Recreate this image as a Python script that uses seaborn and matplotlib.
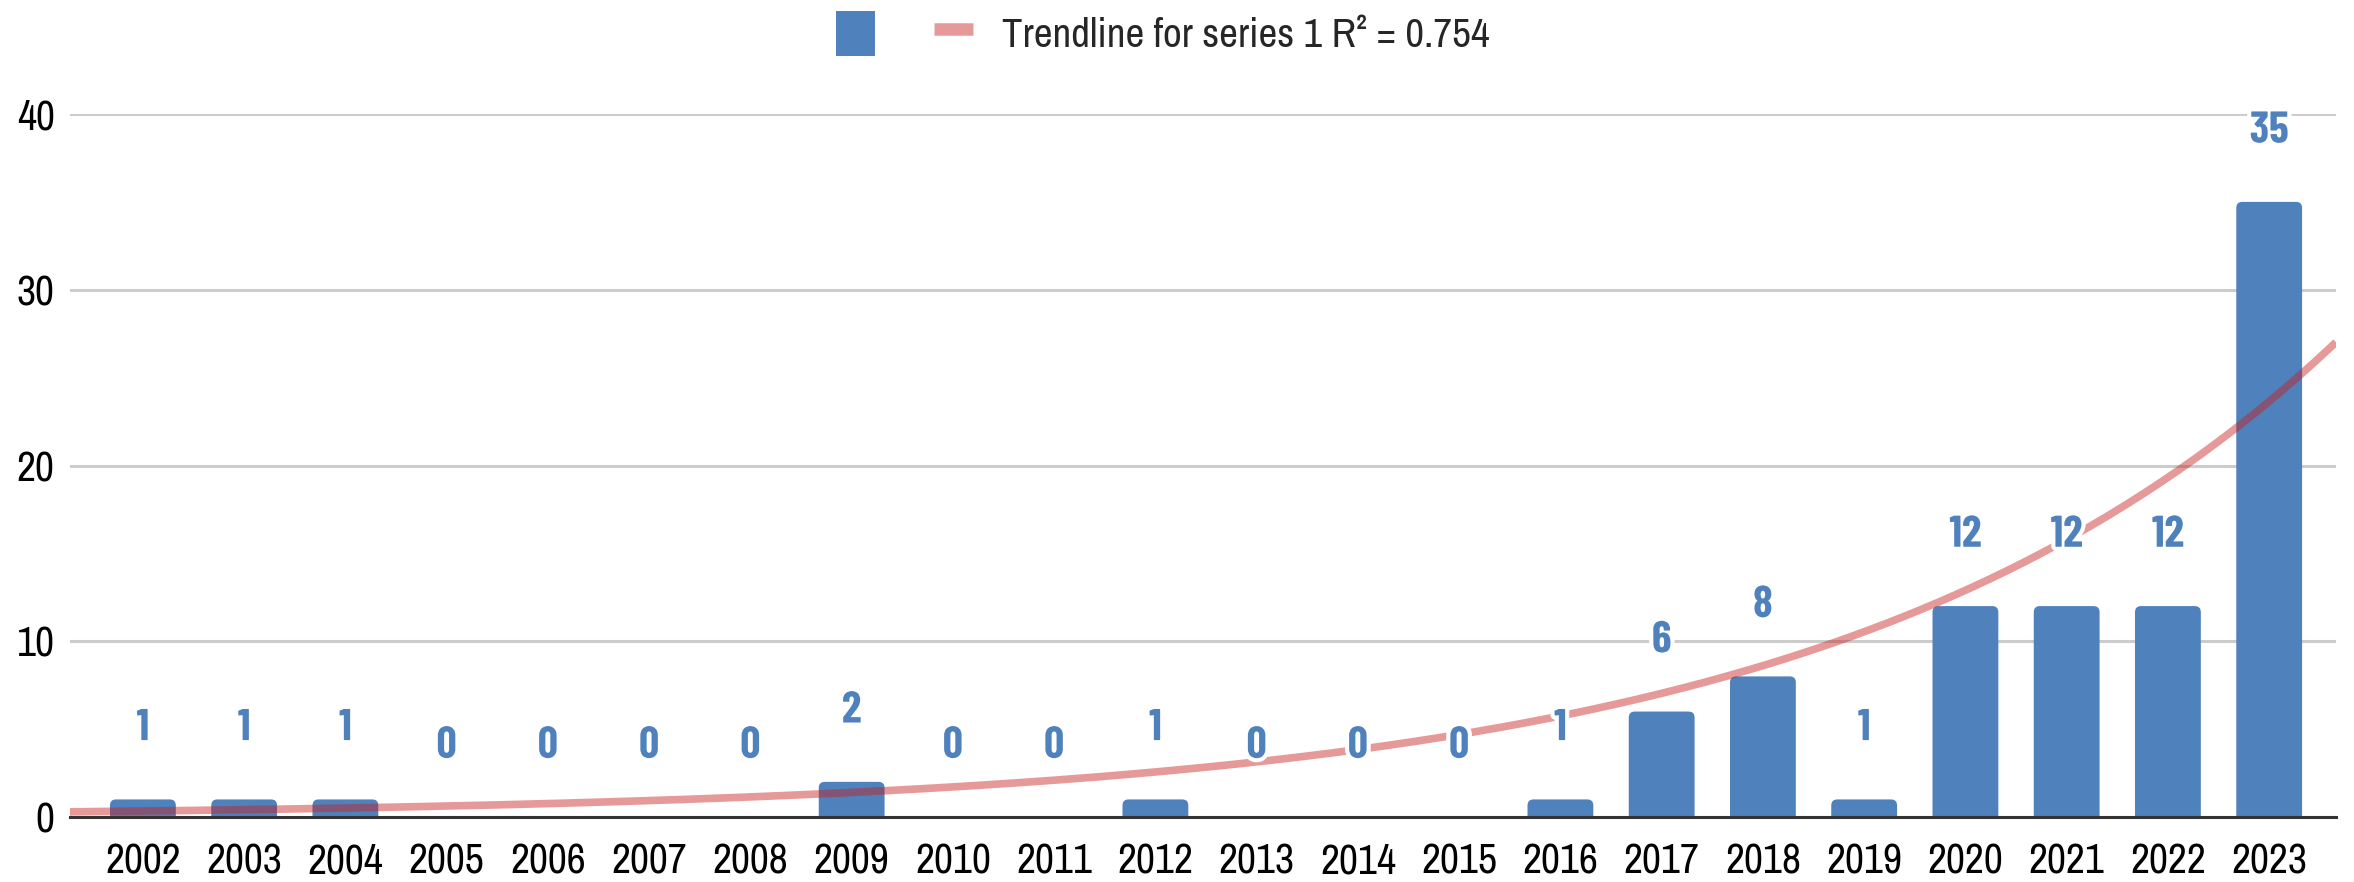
import matplotlib
matplotlib.use('Agg')
import matplotlib.pyplot as plt
import matplotlib.patheffects as pe
from matplotlib.lines import Line2D
from matplotlib.patches import Patch, FancyBboxPatch
import numpy as np
import pandas as pd
import seaborn as sns

# Данные
years = ['2002', '2003', '2004', '2005', '2006', '2007', '2008', '2009', '2010', '2011', '2012',
         '2013', '2014', '2015', '2016', '2017', '2018', '2019', '2020', '2021', '2022', '2023']
counts = [1, 1, 1, 0, 0, 0, 0, 2, 0, 0, 1, 0, 0, 0, 1, 6, 8, 1, 12, 12, 12, 35]

# экспоненциальный тренд (параметры): y = a * exp(b * i), i = 0 для 2002
trend_a = 0.34
trend_b = 0.202
trend_label = 'Trendline for series 1 R² = 0.754'

BLUE = '#4F81BD'
TREND = '#C81E1E'
REG_FONT = ['Archivo Narrow', 'DejaVu Sans']
BOLD_FONT = ['Barlow Condensed', 'DejaVu Sans']

sns.set_theme(style='white')
plt.rcParams['font.family'] = REG_FONT

df = pd.DataFrame({'year': years, 'count': counts})

fig = plt.figure(figsize=(23.54, 8.82), dpi=100)
ax = fig.add_axes([70 / 2354, 65 / 882, (2336 - 70) / 2354, (817 - 114) / 882])

sns.barplot(data=df, x='year', y='count', color=BLUE, saturation=1, width=0.65,
            ax=ax, zorder=2)

x0, x1 = -0.72, 21.66
ax.set_xlim(x0, x1)
ax.set_ylim(0, 40)

# скругляем верх столбцов (низ уходит под ось и обрезается)
px_x = ax.get_position().width * 2354 / (x1 - x0)
px_y = ax.get_position().height * 882 / 40
r = 6 / px_x
for p in list(ax.patches):
    h = p.get_height()
    if h > 0:
        fb = FancyBboxPatch((p.get_x(), -0.5), p.get_width(), h + 0.5,
                            boxstyle=f'round,pad=0,rounding_size={r}',
                            mutation_aspect=px_x / px_y, facecolor=BLUE,
                            edgecolor='none', zorder=2)
        ax.add_patch(fb)
    p.remove()

# линия тренда поверх столбцов
xs = np.linspace(x0, x1, 400)
sns.lineplot(x=xs, y=trend_a * np.exp(trend_b * xs), color=TREND, alpha=0.45, lw=5.5,
             ax=ax, zorder=3, solid_capstyle='butt')

# подписи значений
for i, v in enumerate(counts):
    ax.annotate(str(v), (i, v), xytext=(0, 51), textcoords='offset points',
                ha='center', va='center', fontsize=32, fontweight='bold', color=BLUE,
                family=BOLD_FONT, zorder=5, annotation_clip=False,
                path_effects=[pe.withStroke(linewidth=6, foreground='white')])

ax.set_xlim(x0, x1)
ax.set_ylim(0, 40)
ax.set_yticks([0, 10, 20, 30, 40])
ax.set_xlabel('')
ax.set_ylabel('')
ax.yaxis.grid(True, color='#CCCCCC', lw=2.2)
ax.set_axisbelow(True)
for s in ['left', 'right', 'top']:
    ax.spines[s].set_visible(False)
ax.spines['bottom'].set_color('#333333')
ax.spines['bottom'].set_linewidth(2.2)
ax.spines['bottom'].set_zorder(4)
ax.tick_params(axis='both', length=0, labelsize=30, colors='black')
ax.tick_params(axis='x', pad=18)
ax.tick_params(axis='y', pad=11)

handles = [Patch(facecolor=BLUE, edgecolor='none'),
           Line2D([0], [0], color=TREND, alpha=0.45, lw=9, solid_capstyle='butt')]
fig.legend(handles=handles, labels=['', trend_label], loc='center',
           bbox_to_anchor=(0.494, 0.962), ncol=2, frameon=False, fontsize=29.5,
           handlelength=0.95, handleheight=1.3, handletextpad=0.7, columnspacing=0.75)

plt.savefig('out.png', dpi=100)
